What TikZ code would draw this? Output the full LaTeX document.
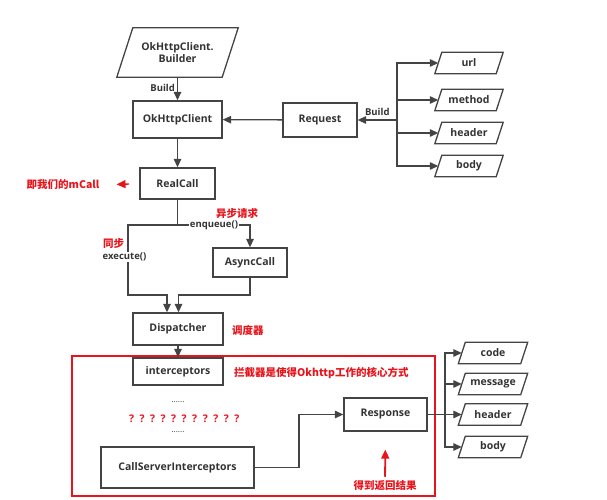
\documentclass[tikz,border=0pt]{standalone}
\usepackage{fontspec}
\setmainfont{Open Sans}
\newfontfamily\cjk{Noto Sans CJK SC}
\usetikzlibrary{arrows.meta,calc}
\definecolor{ln}{HTML}{444444}
\definecolor{tx}{HTML}{333333}
\definecolor{rd}{HTML}{E8141C}
\tikzset{
 x=1pt,y=-1pt,
 box/.style={draw=ln,line width=1.3pt,text=tx,font=\bfseries\fontsize{10.5}{12}\selectfont,inner sep=0pt,align=center},
 ptxt/.style={text=tx,font=\bfseries\fontsize{10.5}{12}\selectfont,inner sep=0pt,align=center},
 conn/.style={draw=ln,line width=1.3pt},
 arr/.style={conn,-{Triangle[length=8.5pt,width=7.5pt]}},
 lab/.style={text=tx,font=\bfseries\fontsize{9.5}{11}\selectfont,inner sep=1pt},
 redlab/.style={text=rd,font=\cjk\bfseries\fontsize{10.5}{12}\selectfont,inner sep=0pt},
 redarr/.style={draw=rd,line width=1.8pt,-{Triangle[length=9pt,width=8pt]}},
 dots/.style={text=tx,font=\fontsize{8}{8}\selectfont,inner sep=0pt},
}
\newcommand\parabox[2]{\draw[conn] ($(#1.north west)+(#2,0)$) -- ($(#1.north east)+(#2,0)$) -- ($(#1.south east)+(-#2,0)$) -- ($(#1.south west)+(-#2,0)$) -- cycle;}
\newcommand\qs{?\hspace{5.5pt}}
\begin{document}
\begin{tikzpicture}
\useasboundingbox (0,0) rectangle (607,500);
% top part
\node[ptxt,minimum width=105,minimum height=49] (bld) at (177.5,52.5) {OkHttpClient.\\Builder};
\parabox{bld}{8}
\node[box,minimum width=89,minimum height=37] (okc) at (177.5,119.5) {OkHttpClient};
\node[box,minimum width=74,minimum height=34] (req) at (320,120) {Request};
\draw[arr] (bld) -- (okc) node[lab,pos=0.45,left=1pt] {Build};
\draw[arr] (req) -- (okc);
\coordinate (rb) at (397,120);
\draw[arr] (rb) -- (req) node[lab,pos=0.5,above=3pt] {Build};
\node[ptxt,minimum width=61,minimum height=21] (url) at (469,63) {url};
\node[ptxt,minimum width=61,minimum height=21] (meth) at (469,100) {method};
\node[ptxt,minimum width=61,minimum height=21] (hdr) at (469,133) {header};
\node[ptxt,minimum width=61,minimum height=21] (bdy) at (469,166) {body};
\foreach \n in {url,meth,hdr,bdy}{\parabox{\n}{3.5}\draw[arr] (rb) |- (\n.west);}
% RealCall
\node[box,minimum width=75,minimum height=31] (real) at (177.5,183.5) {RealCall};
\draw[arr] (okc) -- (real);
\node[redlab] (mcall) at (63,185) {即我们的mCall};
\coordinate (ma) at (129,184);
\draw[draw=rd,line width=1.4pt,-{Triangle[length=9pt,width=8pt]},shorten >=17pt] (ma) -- (mcall.east);
\coordinate (sp) at (177.5,225);
\node[box,minimum width=74,minimum height=29] (async) at (250,262.5) {AsyncCall};
\node[box,minimum width=90,minimum height=32] (disp) at (178,329) {Dispatcher};
\coordinate (lk) at (128,295);
\coordinate (jl) at (167,295);
\coordinate (jr) at (178.5,295);
\draw[conn] (real) -- (sp);
\draw[arr] (sp) -| (async);
\draw[arr] (sp) -| (lk) -- (jl) -- (jl |- disp.north);
\draw[arr] (async) -- (async.south |- jr) -- (jr) -- (jr |- disp.north);
\node[lab,fill=white,inner sep=0.5pt] (enq) at (214,225) {enqueue()};
\node[lab,fill=white,inner sep=0.5pt,anchor=west] (exe) at (102,257) {execute()};
\node[redlab] (yb) at (237,213) {异步请求};
\node[redlab,anchor=west] (tb) at (103,244) {同步};
\node[redlab,anchor=west] (ddq) at (232,330) {调度器};
% interceptor area
\draw[draw=rd,line width=1.2pt] (72,356) rectangle (435,496);
\node[box,minimum width=90,minimum height=27] (intc) at (178,371.5) {interceptors};
\draw[arr] (disp) -- (intc);
\node[redlab,anchor=west] (core) at (234,373) {拦截器是使得Okhttp工作的核心方式};
\node[dots] (d1) at (178,402) {......};
\node[redlab,font=\bfseries\fontsize{10.5}{12}\selectfont,anchor=west] (qq) at (129,418.5) {\qs\qs\qs\qs\qs\qs\qs\qs\qs\qs?};
\node[dots] (d2) at (178,432) {......};
\node[box,minimum width=153,minimum height=41] (csi) at (177.5,467.5) {CallServerInterceptors};
\node[box,minimum width=83,minimum height=33] (resp) at (385.5,414.5) {Response};
\coordinate (cm) at (299,414.5);
\draw[arr] (csi.east) -| (cm) -- (resp);
\node[redlab] (got) at (385,486) {得到返回结果};
\draw[redarr,shorten <=4pt,shorten >=18pt] (got.north) -- (resp.south);
\coordinate (rb2) at (445,414.5);
\draw[conn] (resp) -- (rb2);
\node[ptxt,minimum width=62,minimum height=21] (code) at (493,353) {code};
\node[ptxt,minimum width=62,minimum height=21] (msg) at (493,384) {message};
\node[ptxt,minimum width=62,minimum height=21] (rhdr) at (493,414.5) {header};
\node[ptxt,minimum width=62,minimum height=21] (rbdy) at (493,447) {body};
\foreach \n in {code,msg,rhdr,rbdy}{\parabox{\n}{3.5}\draw[arr] (rb2) |- (\n.west);}
\end{tikzpicture}
\end{document}
